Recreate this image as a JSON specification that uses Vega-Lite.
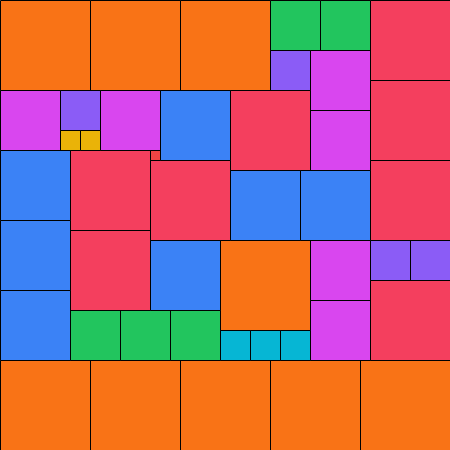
{
  "$schema": "https://vega.github.io/schema/vega-lite/v6.json",
  "width": 450,
  "height": 450,
  "autosize": "none",
  "padding": 0,
  "background": "white",
  "config": {"view": {"stroke": null}},
  "data": {"values": [
    {"x": 0, "x2": 90, "y": 0, "y2": 90, "g": "orange"},
    {"x": 90, "x2": 180, "y": 0, "y2": 90, "g": "orange"},
    {"x": 180, "x2": 270, "y": 0, "y2": 90, "g": "orange"},
    {"x": 220, "x2": 310, "y": 240, "y2": 330, "g": "orange"},
    {"x": 0, "x2": 90, "y": 360, "y2": 450, "g": "orange"},
    {"x": 90, "x2": 180, "y": 360, "y2": 450, "g": "orange"},
    {"x": 180, "x2": 270, "y": 360, "y2": 450, "g": "orange"},
    {"x": 270, "x2": 360, "y": 360, "y2": 450, "g": "orange"},
    {"x": 360, "x2": 450, "y": 360, "y2": 450, "g": "orange"},
    {"x": 270, "x2": 320, "y": 0, "y2": 50, "g": "green"},
    {"x": 320, "x2": 370, "y": 0, "y2": 50, "g": "green"},
    {"x": 70, "x2": 120, "y": 310, "y2": 360, "g": "green"},
    {"x": 120, "x2": 170, "y": 310, "y2": 360, "g": "green"},
    {"x": 170, "x2": 220, "y": 310, "y2": 360, "g": "green"},
    {"x": 270, "x2": 310, "y": 50, "y2": 90, "g": "purple"},
    {"x": 60, "x2": 100, "y": 90, "y2": 130, "g": "purple"},
    {"x": 370, "x2": 410, "y": 240, "y2": 280, "g": "purple"},
    {"x": 410, "x2": 450, "y": 240, "y2": 280, "g": "purple"},
    {"x": 310, "x2": 370, "y": 50, "y2": 110, "g": "magenta"},
    {"x": 310, "x2": 370, "y": 110, "y2": 170, "g": "magenta"},
    {"x": 0, "x2": 60, "y": 90, "y2": 150, "g": "magenta"},
    {"x": 100, "x2": 160, "y": 90, "y2": 150, "g": "magenta"},
    {"x": 310, "x2": 370, "y": 240, "y2": 300, "g": "magenta"},
    {"x": 310, "x2": 370, "y": 300, "y2": 360, "g": "magenta"},
    {"x": 370, "x2": 450, "y": 0, "y2": 80, "g": "red"},
    {"x": 370, "x2": 450, "y": 80, "y2": 160, "g": "red"},
    {"x": 370, "x2": 450, "y": 160, "y2": 240, "g": "red"},
    {"x": 230, "x2": 310, "y": 90, "y2": 170, "g": "red"},
    {"x": 70, "x2": 150, "y": 150, "y2": 230, "g": "red"},
    {"x": 70, "x2": 150, "y": 230, "y2": 310, "g": "red"},
    {"x": 150, "x2": 230, "y": 160, "y2": 240, "g": "red"},
    {"x": 370, "x2": 450, "y": 280, "y2": 360, "g": "red"},
    {"x": 150, "x2": 160, "y": 150, "y2": 160, "g": "red2"},
    {"x": 60, "x2": 80, "y": 130, "y2": 150, "g": "yellow"},
    {"x": 80, "x2": 100, "y": 130, "y2": 150, "g": "yellow"},
    {"x": 160, "x2": 230, "y": 90, "y2": 160, "g": "blue"},
    {"x": 0, "x2": 70, "y": 150, "y2": 220, "g": "blue"},
    {"x": 0, "x2": 70, "y": 220, "y2": 290, "g": "blue"},
    {"x": 0, "x2": 70, "y": 290, "y2": 360, "g": "blue"},
    {"x": 230, "x2": 300, "y": 170, "y2": 240, "g": "blue"},
    {"x": 300, "x2": 370, "y": 170, "y2": 240, "g": "blue"},
    {"x": 150, "x2": 220, "y": 240, "y2": 310, "g": "blue"},
    {"x": 220, "x2": 250, "y": 330, "y2": 360, "g": "cyan"},
    {"x": 250, "x2": 280, "y": 330, "y2": 360, "g": "cyan"},
    {"x": 280, "x2": 310, "y": 330, "y2": 360, "g": "cyan"}
  ]},
  "mark": {"type": "rect", "stroke": "black", "strokeWidth": 1},
  "encoding": {
    "x": {"field": "x", "type": "quantitative", "scale": {"domain": [-0.5, 449.5], "nice": false, "zero": false}, "axis": null},
    "x2": {"field": "x2"},
    "y": {"field": "y", "type": "quantitative", "scale": {"domain": [-0.5, 449.5], "nice": false, "zero": false, "reverse": true}, "axis": null},
    "y2": {"field": "y2"},
    "color": {"field": "g", "type": "nominal", "legend": null,
      "scale": {"domain": ["orange", "green", "purple", "magenta", "red", "red2", "yellow", "blue", "cyan"],
                "range": ["#F97316", "#22C55E", "#8B5CF6", "#D946EF", "#F43F5E", "#EF4444", "#EAB308", "#3B82F6", "#06B6D4"]}}
  }
}
